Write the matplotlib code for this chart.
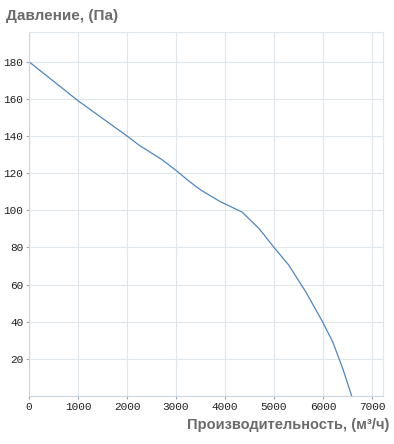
import matplotlib
matplotlib.use("Agg")
import matplotlib.pyplot as plt

# fan curve
flow = [0, 500, 1000, 1500, 2000, 2250, 2700, 3000, 3250, 3500, 3900,
        4350, 4700, 5000, 5300, 5650, 6000, 6200, 6400, 6585]
pressure = [180, 169.5, 159, 149.5, 140, 135, 127.5, 121.5, 116, 111, 104.7,
            99, 90, 80, 70.5, 56, 39.5, 29, 15, 0]

xticks = [0, 1000, 2000, 3000, 4000, 5000, 6000, 7000]
yticks = [20, 40, 60, 80, 100, 120, 140, 160, 180]

grid_col = "#dfe6ec"
label_col = "#6b6b6b"

fig = plt.figure(figsize=(3.94, 4.44), dpi=100)
ax = fig.add_axes([29/394, 48/444, 354/394, 364/444])

ax.plot(flow, pressure, color="#4f86bf", lw=0.9)

ax.set_xlim(0, 7224)
ax.set_ylim(0, 196)
ax.set_xticks(xticks)
ax.set_yticks(yticks)
ax.grid(True, color=grid_col, lw=0.8)
ax.set_axisbelow(True)

for s in ax.spines.values():
    s.set_color(grid_col)
    s.set_linewidth(0.8)
ax.spines["left"].set_color("#c9d6e2")
ax.spines["bottom"].set_color("#c9d6e2")

ax.tick_params(length=2, width=0.8, color="#9aa9b8", pad=2,
               labelsize=8, labelcolor="#222222")
for t in ax.get_xticklabels() + ax.get_yticklabels():
    t.set_family("Liberation Mono")

fig.text(6/394, 1 - 16/444, "Давление, (Па)", fontsize=11, fontweight="bold",
         color=label_col, family="Liberation Sans", va="center", ha="left")
fig.text(389/394, 1 - 425/444, "Производительность, (м³/ч)", fontsize=10.5,
         fontweight="bold", color=label_col, family="Liberation Sans",
         va="center", ha="right")

fig.savefig("out.png", dpi=100, facecolor="white")
